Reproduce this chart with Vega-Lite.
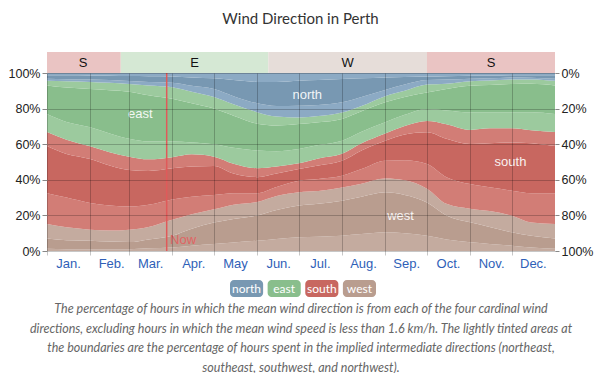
{
  "$schema": "https://vega.github.io/schema/vega-lite/v6.json",
  "background": "white",
  "padding": {"left": 8, "right": 5, "top": 12, "bottom": 0},
  "config": {"view": {"stroke": null}, "font": "Liberation Sans", "axis": {"labelOverlap": false}},
  "title": {"text": "Wind Direction in Perth", "font": "Lato", "fontSize": 15, "fontWeight": "normal", "color": "#333", "anchor": "middle", "offset": 25},
  "spacing": 10,
  "resolve": {"scale": {"color": "independent"}},
  "vconcat": [
    {
      "spacing": 0,
      "bounds": "flush",
      "vconcat": [
        {
          "width": 508,
          "height": 21,
          "data": {"values": [
            {"dir": "S", "start": "2023-01-01", "end": "2023-02-23", "mid": "2023-01-27"},
            {"dir": "E", "start": "2023-02-23", "end": "2023-06-09", "mid": "2023-04-17"},
            {"dir": "W", "start": "2023-06-09", "end": "2023-10-01", "mid": "2023-08-05"},
            {"dir": "S", "start": "2023-10-01", "end": "2024-01-01", "mid": "2023-11-16"}
          ]},
          "layer": [
            {"mark": {"type": "rect"},
             "encoding": {
               "x": {"field": "start", "type": "temporal", "scale": {"type": "utc", "domain": [{"year": 2023, "month": 1, "date": 1, "utc": true}, {"year": 2024, "month": 1, "date": 1, "utc": true}]}, "axis": null},
               "x2": {"field": "end"},
               "color": {"field": "dir", "type": "nominal", "scale": {"domain": ["S", "E", "W"], "range": ["#eac4c3", "#d5e8d4", "#e6ddd9"]}, "legend": null}
             }},
            {"mark": {"type": "text", "fontSize": 13, "color": "#111"},
             "encoding": {
               "x": {"field": "mid", "type": "temporal"},
               "text": {"field": "dir"}
             }}
          ]
        },
        {
          "width": 508,
          "height": 178,
          "resolve": {"scale": {"y": "independent"}},
          "layer": [
            {
              "layer": [
                {
                  "data": {"name": "wind"},
                  "layer": [
                    {"mark": {"type": "area", "color": "#c4ab9f", "interpolate": "monotone"},
                     "encoding": {
                       "x": {"field": "date", "type": "temporal", "title": null,
                             "scale": {"type": "utc", "domain": [{"year": 2023, "month": 1, "date": 1, "utc": true}, {"year": 2024, "month": 1, "date": 1, "utc": true}]},
                             "axis": {"values": [
                               {"year": 2023, "month": 1, "date": 1, "utc": true}, {"year": 2023, "month": 2, "date": 1, "utc": true},
                               {"year": 2023, "month": 3, "date": 1, "utc": true}, {"year": 2023, "month": 4, "date": 1, "utc": true},
                               {"year": 2023, "month": 5, "date": 1, "utc": true}, {"year": 2023, "month": 6, "date": 1, "utc": true},
                               {"year": 2023, "month": 7, "date": 1, "utc": true}, {"year": 2023, "month": 8, "date": 1, "utc": true},
                               {"year": 2023, "month": 9, "date": 1, "utc": true}, {"year": 2023, "month": 10, "date": 1, "utc": true},
                               {"year": 2023, "month": 11, "date": 1, "utc": true}, {"year": 2023, "month": 12, "date": 1, "utc": true}],
                               "labelExpr": "utcFormat(datum.value, '%b') + (utcFormat(datum.value, '%m') == '05' ? '' : '.')",
                               "labelOffset": 21, "labelFlush": false, "labelOverlap": false, "labelAlign": "center",
                               "labelColor": "#2f5fb8", "labelFontSize": 13, "labelPadding": 2,
                               "grid": true, "gridColor": "#000", "gridOpacity": 0.22,
                               "ticks": true, "tickSize": 4, "tickColor": "#000", "tickOpacity": 0.22,
                               "domain": false, "zindex": 1, "title": null}},
                       "y": {"field": "b1", "type": "quantitative", "axis": null, "scale": {"domain": [0, 100], "nice": false}}
                     }},
                    {"mark": {"type": "area", "color": "#b99d8f", "interpolate": "monotone"},
                     "encoding": {"x": {"field": "date", "type": "temporal"}, "y": {"field": "b2", "type": "quantitative", "axis": null}, "y2": {"field": "b1"}}},
                    {"mark": {"type": "area", "color": "#c4ab9f", "interpolate": "monotone"},
                     "encoding": {"x": {"field": "date", "type": "temporal"}, "y": {"field": "b3", "type": "quantitative", "axis": null}, "y2": {"field": "b2"}}},
                    {"mark": {"type": "area", "color": "#d27d76", "interpolate": "monotone"},
                     "encoding": {"x": {"field": "date", "type": "temporal"}, "y": {"field": "b4", "type": "quantitative", "axis": null}, "y2": {"field": "b3"}}},
                    {"mark": {"type": "area", "color": "#c86760", "interpolate": "monotone"},
                     "encoding": {"x": {"field": "date", "type": "temporal"}, "y": {"field": "b5", "type": "quantitative", "axis": null}, "y2": {"field": "b4"}}},
                    {"mark": {"type": "area", "color": "#d27d76", "interpolate": "monotone"},
                     "encoding": {"x": {"field": "date", "type": "temporal"}, "y": {"field": "b6", "type": "quantitative", "axis": null}, "y2": {"field": "b5"}}},
                    {"mark": {"type": "area", "color": "#9cca9e", "interpolate": "monotone"},
                     "encoding": {"x": {"field": "date", "type": "temporal"}, "y": {"field": "b7", "type": "quantitative", "axis": null}, "y2": {"field": "b6"}}},
                    {"mark": {"type": "area", "color": "#89be8c", "interpolate": "monotone"},
                     "encoding": {"x": {"field": "date", "type": "temporal"}, "y": {"field": "b8", "type": "quantitative", "axis": null}, "y2": {"field": "b7"}}},
                    {"mark": {"type": "area", "color": "#9cca9e", "interpolate": "monotone"},
                     "encoding": {"x": {"field": "date", "type": "temporal"}, "y": {"field": "b9", "type": "quantitative", "axis": null}, "y2": {"field": "b8"}}},
                    {"mark": {"type": "area", "color": "#8caac4", "interpolate": "monotone"},
                     "encoding": {"x": {"field": "date", "type": "temporal"}, "y": {"field": "b10", "type": "quantitative", "axis": null}, "y2": {"field": "b9"}}},
                    {"mark": {"type": "area", "color": "#7898b2", "interpolate": "monotone"},
                     "encoding": {"x": {"field": "date", "type": "temporal"}, "y": {"field": "b11", "type": "quantitative", "axis": null}, "y2": {"field": "b10"}}},
                    {"mark": {"type": "area", "color": "#8caac4", "interpolate": "monotone"},
                     "encoding": {"x": {"field": "date", "type": "temporal"}, "y": {"field": "b11", "type": "quantitative", "axis": null}, "y2": {"datum": 100}}}
                  ]
                },
                {
                  "data": {"values": [{"date": "2023-03-28"}]},
                  "mark": {"type": "rule", "color": "#e05a5a", "strokeWidth": 1.5},
                  "encoding": {"x": {"field": "date", "type": "temporal"}}
                },
                {
                  "data": {"values": [{"date": "2023-03-29", "pct": 6.2, "label": "Now"}]},
                  "mark": {"type": "text", "color": "#e06464", "fontSize": 13, "align": "left", "dx": 2},
                  "encoding": {"x": {"field": "date", "type": "temporal"}, "y": {"field": "pct", "type": "quantitative", "axis": null}, "text": {"field": "label"}}
                },
                {
                  "data": {"values": [
                    {"date": "2023-07-07", "pct": 87.6, "label": "north"},
                    {"date": "2023-03-09", "pct": 77.2, "label": "east"},
                    {"date": "2023-11-30", "pct": 50, "label": "south"},
                    {"date": "2023-09-12", "pct": 19.9, "label": "west"}
                  ]},
                  "mark": {"type": "text", "color": "#ffffff", "opacity": 0.9, "fontSize": 13},
                  "encoding": {"x": {"field": "date", "type": "temporal"}, "y": {"field": "pct", "type": "quantitative", "axis": null}, "text": {"field": "label"}}
                }
              ]
            },
            {
              "data": {"name": "wind"},
              "mark": {"type": "point", "opacity": 0},
              "encoding": {
                "x": {"field": "date", "type": "temporal"},
                "y": {"field": "b6", "type": "quantitative", "title": null,
                      "scale": {"domain": [0, 100], "nice": false},
                      "axis": {"orient": "left", "values": [0, 20, 40, 60, 80, 100], "labelExpr": "datum.value + '%'", "title": null,
                               "labelOverlap": false, "labelFlush": false,
                               "grid": true, "gridColor": "#000", "gridOpacity": 0.22, "domain": false,
                               "tickSize": 5, "tickColor": "#888", "labelPadding": 2, "labelFontSize": 12.5,
                               "labelColor": "#222", "zindex": 1}}
              }
            },
            {
              "data": {"name": "wind"},
              "mark": {"type": "point", "opacity": 0},
              "encoding": {
                "x": {"field": "date", "type": "temporal"},
                "y": {"field": "b6", "type": "quantitative", "title": null,
                      "scale": {"domain": [0, 100], "reverse": true, "nice": false},
                      "axis": {"orient": "right", "values": [0, 20, 40, 60, 80, 100], "labelExpr": "datum.value + '%'", "title": null,
                               "labelOverlap": false, "labelFlush": false,
                               "grid": false, "domain": false, "tickSize": 4, "tickColor": "#888", "labelPadding": 2,
                               "labelFontSize": 12.5, "labelColor": "#222"}}
              }
            }
          ]
        }
      ]
    },
    {
      "width": 508,
      "height": 17,
      "data": {"values": [{"dir": "north"}, {"dir": "east"}, {"dir": "south"}, {"dir": "west"}]},
      "title": {"text": [
        "The percentage of hours in which the mean wind direction is from each of the four cardinal wind",
        "directions, excluding hours in which the mean wind speed is less than 1.6 km/h. The lightly tinted areas at",
        "the boundaries are the percentage of hours spent in the implied intermediate directions (northeast,",
        "southeast, southwest, and northwest)."],
        "orient": "bottom", "anchor": "middle", "font": "Lato", "fontSize": 12.5, "fontStyle": "italic", "fontWeight": "normal",
        "color": "#666", "lineHeight": 19.5, "offset": 6},
      "layer": [
        {"mark": {"type": "rect", "cornerRadius": 4},
         "encoding": {
           "x": {"field": "dir", "type": "nominal", "sort": ["north", "east", "south", "west"], "scale": {"range": [183, 329], "paddingInner": 0.12, "paddingOuter": 0}, "axis": null},
           "color": {"field": "dir", "type": "nominal", "scale": {"domain": ["north", "east", "south", "west"], "range": ["#7898b2", "#89be8c", "#c86760", "#b99d8f"]}, "legend": null}
         }},
        {"mark": {"type": "text", "color": "#ffffff", "fontSize": 12, "font": "Lato"},
         "encoding": {
           "x": {"field": "dir", "type": "nominal", "sort": ["north", "east", "south", "west"]},
           "text": {"field": "dir"}
         }},
        {"mark": {"type": "point", "opacity": 0},
         "encoding": {
           "y": {"datum": 50, "type": "quantitative", "scale": {"domain": [0, 100]},
                 "axis": {"values": [50], "labelExpr": "'100%'", "labelOpacity": 0, "tickOpacity": 0, "tickSize": 5, "labelPadding": 2,
                          "labelFontSize": 12.5, "domain": false, "grid": false, "title": null}}
         }}
      ]
    }
  ],
  "datasets": {
    "wind": [
      {"date": "2023-01-01", "b1": 1.2, "b2": 7, "b3": 15.2, "b4": 32.5, "b5": 59, "b6": 66.8, "b7": 77, "b8": 93, "b9": 95.6, "b10": 96.8, "b11": 98.7},
      {"date": "2023-01-15", "b1": 1, "b2": 6, "b3": 13.3, "b4": 30, "b5": 54.5, "b6": 62.5, "b7": 72.5, "b8": 91.8, "b9": 95.3, "b10": 96.5, "b11": 98.7},
      {"date": "2023-02-01", "b1": 1, "b2": 5.8, "b3": 12, "b4": 27, "b5": 51.7, "b6": 58.8, "b7": 69.5, "b8": 91, "b9": 95, "b10": 96.3, "b11": 98.6},
      {"date": "2023-02-15", "b1": 1, "b2": 5.3, "b3": 11.5, "b4": 25.5, "b5": 48, "b6": 55.5, "b7": 66, "b8": 90.3, "b9": 94.5, "b10": 96, "b11": 98.5},
      {"date": "2023-03-01", "b1": 1, "b2": 5, "b3": 12, "b4": 25, "b5": 45.5, "b6": 53, "b7": 63, "b8": 89.5, "b9": 93.8, "b10": 95.5, "b11": 98.3},
      {"date": "2023-03-15", "b1": 1.5, "b2": 6.5, "b3": 13.5, "b4": 26, "b5": 45, "b6": 51.5, "b7": 61.5, "b8": 87.5, "b9": 93, "b10": 95, "b11": 98.2},
      {"date": "2023-04-01", "b1": 2, "b2": 8.6, "b3": 17.5, "b4": 29, "b5": 46.5, "b6": 52.7, "b7": 61.5, "b8": 85.5, "b9": 92, "b10": 94.5, "b11": 98},
      {"date": "2023-04-15", "b1": 3, "b2": 12.5, "b3": 20.6, "b4": 30.5, "b5": 47.5, "b6": 54.3, "b7": 61, "b8": 83, "b9": 89.5, "b10": 92.8, "b11": 97.5},
      {"date": "2023-05-01", "b1": 3.9, "b2": 16, "b3": 23.4, "b4": 31.5, "b5": 47.8, "b6": 53, "b7": 60, "b8": 80, "b9": 86.5, "b10": 91, "b11": 97},
      {"date": "2023-05-15", "b1": 4.8, "b2": 18, "b3": 26, "b4": 32.5, "b5": 43.5, "b6": 49, "b7": 58, "b8": 76, "b9": 82.4, "b10": 87, "b11": 96},
      {"date": "2023-06-01", "b1": 5.8, "b2": 20, "b3": 27.5, "b4": 32.5, "b5": 41.5, "b6": 46.5, "b7": 56.4, "b8": 71.5, "b9": 78, "b10": 83, "b11": 95},
      {"date": "2023-06-15", "b1": 6.8, "b2": 23, "b3": 30.9, "b4": 36, "b5": 43.5, "b6": 47.5, "b7": 56, "b8": 70.5, "b9": 75.5, "b10": 81.5, "b11": 95},
      {"date": "2023-07-01", "b1": 7.7, "b2": 25.5, "b3": 33, "b4": 39.5, "b5": 46, "b6": 49.3, "b7": 57.3, "b8": 71.3, "b9": 75, "b10": 81.6, "b11": 95.7},
      {"date": "2023-07-15", "b1": 8, "b2": 26.5, "b3": 33.7, "b4": 40.5, "b5": 48, "b6": 52, "b7": 59.5, "b8": 72.3, "b9": 75.8, "b10": 82, "b11": 96},
      {"date": "2023-08-01", "b1": 8.6, "b2": 28.3, "b3": 35.7, "b4": 42.3, "b5": 50.7, "b6": 54.6, "b7": 62, "b8": 74.2, "b9": 77.8, "b10": 83.5, "b11": 96.6},
      {"date": "2023-08-15", "b1": 9.5, "b2": 30.5, "b3": 37.8, "b4": 46, "b5": 56.5, "b6": 60.5, "b7": 67, "b8": 78.5, "b9": 81.5, "b10": 86.5, "b11": 97},
      {"date": "2023-09-01", "b1": 10.5, "b2": 33, "b3": 40.7, "b4": 50.7, "b5": 62, "b6": 66, "b7": 72.3, "b8": 83.5, "b9": 87, "b10": 90.5, "b11": 97.5},
      {"date": "2023-09-15", "b1": 10, "b2": 31.5, "b3": 39.7, "b4": 51, "b5": 65.5, "b6": 70.2, "b7": 76.5, "b8": 86.5, "b9": 90, "b10": 93.5, "b11": 97.8},
      {"date": "2023-10-01", "b1": 8.6, "b2": 27.3, "b3": 35, "b4": 48.9, "b5": 66.7, "b6": 73, "b7": 79.8, "b8": 89, "b9": 93.5, "b10": 96, "b11": 98},
      {"date": "2023-10-15", "b1": 6.5, "b2": 20, "b3": 26.5, "b4": 41.5, "b5": 63, "b6": 71.2, "b7": 79, "b8": 91, "b9": 94, "b10": 96.3, "b11": 98.2},
      {"date": "2023-11-01", "b1": 4.9, "b2": 16.1, "b3": 23.8, "b4": 37.6, "b5": 60.1, "b6": 68, "b7": 77.9, "b8": 92.9, "b9": 95.4, "b10": 96.8, "b11": 98.5},
      {"date": "2023-11-15", "b1": 4, "b2": 13.5, "b3": 22.5, "b4": 35.8, "b5": 60.5, "b6": 68.9, "b7": 78, "b8": 93.2, "b9": 95.8, "b10": 97, "b11": 98.6},
      {"date": "2023-12-01", "b1": 3, "b2": 10.5, "b3": 19.8, "b4": 33.9, "b5": 61, "b6": 69, "b7": 77.9, "b8": 93.8, "b9": 96.4, "b10": 97.5, "b11": 98.8},
      {"date": "2023-12-15", "b1": 2, "b2": 8.5, "b3": 16, "b4": 32.5, "b5": 60.5, "b6": 67.8, "b7": 78, "b8": 94, "b9": 96.4, "b10": 97.4, "b11": 98.8},
      {"date": "2024-01-01", "b1": 1.2, "b2": 7, "b3": 15.2, "b4": 32.5, "b5": 59, "b6": 66.8, "b7": 77, "b8": 93, "b9": 95.6, "b10": 96.8, "b11": 98.7}
    ]
  }
}
